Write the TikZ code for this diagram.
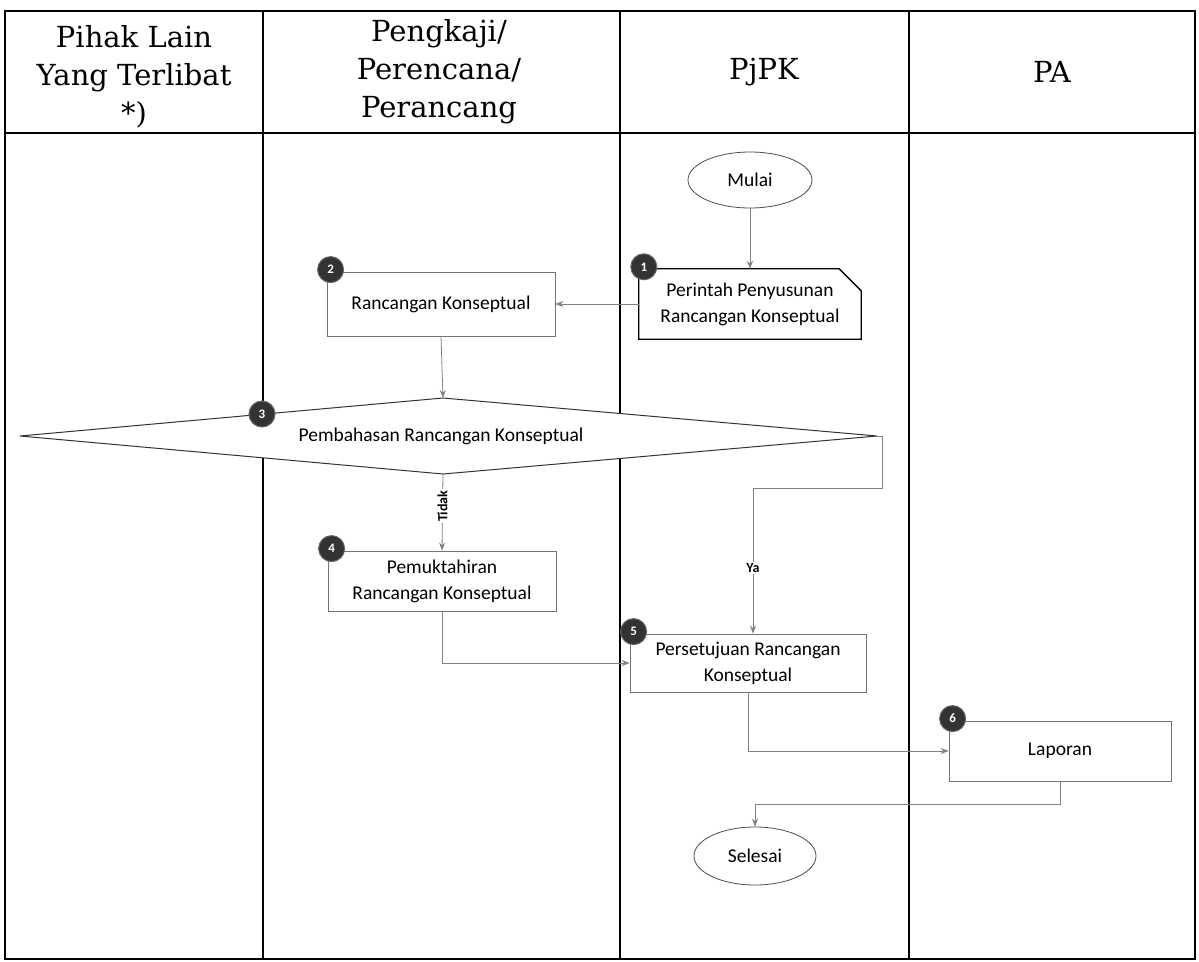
\documentclass[tikz,border=0pt]{standalone}
\usepackage{fontspec}
\usetikzlibrary{shapes.geometric,arrows.meta,calc}
\newfontfamily\hdrfont{DejaVu Serif}
\newfontfamily\bodyfont{Carlito}
\begin{document}
\begin{tikzpicture}[x=1pt,y=-1pt,
  lane/.style={draw=black,line width=1.6pt},
  hdr/.style={font=\hdrfont\fontsize{29}{38}\selectfont,align=center,inner sep=0pt},
  txt/.style={font=\bodyfont\fontsize{19.5}{26}\selectfont,align=center,inner sep=2pt},
  box/.style={txt,draw=black!55,line width=0.8pt,fill=white,minimum width=228pt,minimum height=62pt},
  ell/.style={txt,ellipse,draw=black!70,line width=0.8pt,fill=white,inner sep=0pt},
  dia/.style={draw=black!80,line width=1pt,fill=white},
  card/.style={draw=black,line width=1.3pt},
  badge/.style={circle,fill=black!80,draw=black!60,line width=1pt,minimum size=26pt,inner sep=0pt,text=white,font=\bodyfont\bfseries\fontsize{13}{13}\selectfont},
  conn/.style={draw=black!50,line width=0.8pt,-{Stealth[length=8pt,width=6pt]}},
  lbl/.style={font=\bodyfont\bfseries\fontsize{14}{14}\selectfont,fill=white,inner sep=1.5pt}
]
\useasboundingbox (0,0) rectangle (1199,961);
\fill[white] (0,0) rectangle (1199,961);

% swimlane table
\draw[lane] (5,11) rectangle (1195,959);
\draw[lane] (5,133) -- (1195,133);
\foreach \x in {263,620,909} \draw[lane] (\x,11) -- (\x,959);

% headers
\node[hdr] (h1) at (134,77) {Pihak Lain\\Yang Terlibat\\*)};
\node[hdr] (h2) at (439,72) {Pengkaji/\\Perencana/\\Perancang};
\node[hdr] (h3) at (764,72) {PjPK};
\node[hdr] (h4) at (1052,72) {PA};

% decision diamond
\coordinate (dl) at (20,436);
\coordinate (dt) at (443,398);
\coordinate (dr) at (877,436);
\coordinate (db) at (443,474);
\draw[dia] (dl) -- (dt) -- (dr) -- (db) -- cycle;
\node[txt] (pemb) at (441,436) {Pembahasan Rancangan Konseptual};

% nodes
\node[ell,minimum width=124pt,minimum height=56pt] (mulai) at (750,180) {Mulai};
\node[txt,minimum width=222pt,minimum height=70pt,fill=white] (perintah) at (750,304) {Perintah Penyusunan\\Rancangan Konseptual};
\draw[card] (perintah.north west) -- ([xshift=-22pt]perintah.north east) -- ([yshift=-22pt]perintah.north east) -- (perintah.south east) -- (perintah.south west) -- cycle;
\node[box,minimum height=64pt] (ranc) at (441,304) {Rancangan Konseptual};
\node[box,minimum height=60pt] (pemuk) at (442,581) {Pemuktahiran\\Rancangan Konseptual};
\node[box,minimum width=236pt,minimum height=58pt] (perset) at (748,663) {Persetujuan Rancangan\\Konseptual};
\node[box,minimum width=222pt,minimum height=60pt] (lapor) at (1060,751) {Laporan};
\node[ell,minimum width=122pt,minimum height=58pt] (selesai) at (755,856) {Selesai};

% badges
\node[badge] (b1) at ([xshift=5pt,yshift=2pt]perintah.north west) {1};
\node[badge] (b2) at ([xshift=4pt,yshift=2pt]ranc.north west) {2};
\node[badge] (b3) at (262,414) {3};
\node[badge] (b4) at ([xshift=4pt,yshift=2pt]pemuk.north west) {4};
\node[badge] (b5) at ([xshift=4pt,yshift=2pt]perset.north west) {5};
\node[badge] (b6) at ([xshift=4pt,yshift=2pt]lapor.north west) {6};

% connectors
\draw[conn] (mulai) -- (perintah);
\draw[conn] (perintah.west) -- (ranc.east);
\draw[conn] (ranc.south) -- (dt);
\draw[conn] (db) -- node[lbl,rotate=90,pos=0.42] (tidak) {Tidak} (pemuk.north);
\coordinate (yaA) at (882,436);
\coordinate (yaB) at (882,488);
\coordinate (yaC) at (753,488);
\draw[conn] (dr) -- (yaA) -- (yaB) -- (yaC) -- node[lbl,pos=0.55] (ya) {Ya} (yaC |- perset.north);
\draw[conn] (pemuk.south) |- (perset.west);
\draw[conn] (perset.south) |- (lapor.west);
\coordinate (lsA) at (1060,804);
\draw[conn] (lapor.south) -- (lsA) -| (selesai.north);
\end{tikzpicture}
\end{document}
